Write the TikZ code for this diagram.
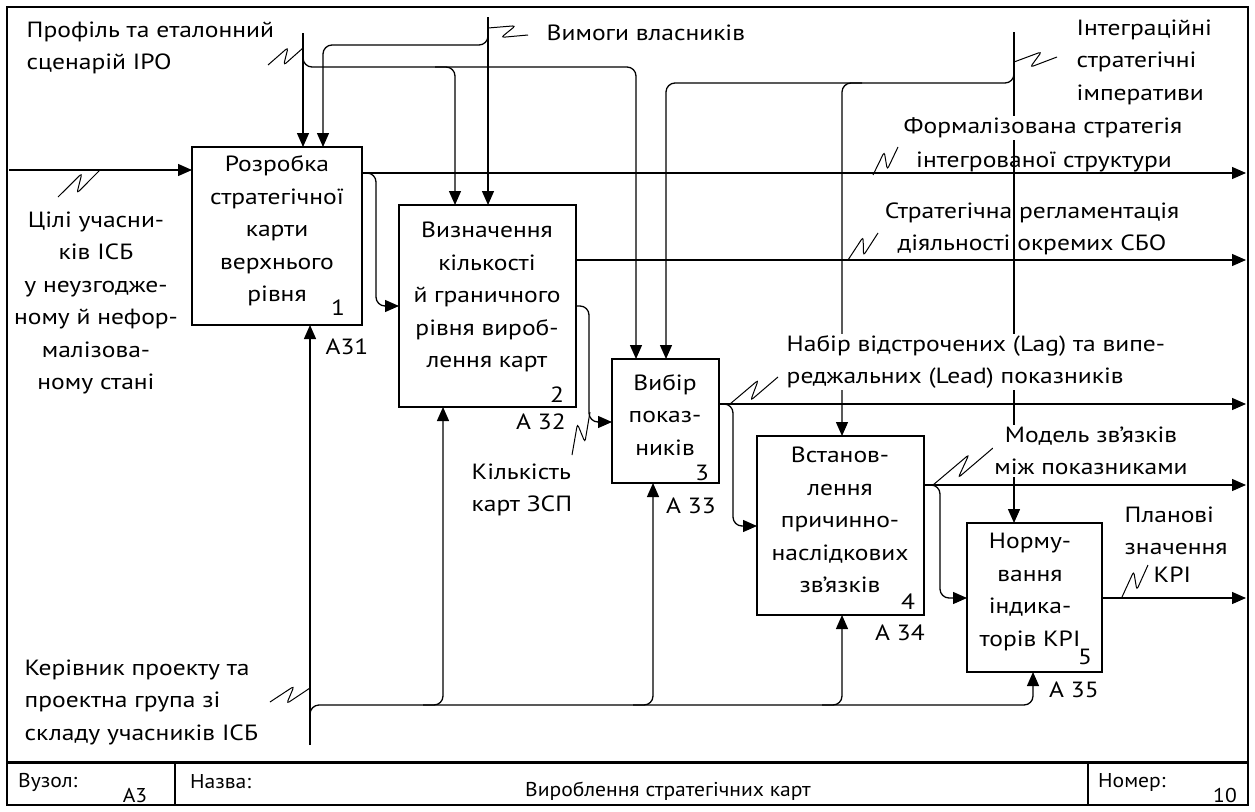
\documentclass[tikz,border=0pt]{standalone}
\usepackage{fontspec}
\setmainfont{PT Sans}[FakeStretch=1.16]
\newfontfamily\condfont[FakeStretch=1.08]{PT Sans}
\usetikzlibrary{arrows.meta,calc}
\newcommand{\sq}[4]{%
 \pgfmathsetmacro\sqdx{#3-(#1)}%
 \pgfmathsetmacro\sqdy{#4-(#2)}%
 \pgfmathsetmacro\sqL{veclen(\sqdx,\sqdy)}%
 \pgfmathsetmacro\sqnx{-1*(\sqdy)/\sqL*7}%
 \pgfmathsetmacro\sqny{(\sqdx)/\sqL*7}%
 \draw[sqs] (#1,#2) -- ({#1+0.66*(\sqdx)-(\sqnx)},{#2+0.66*(\sqdy)-(\sqny)}) -- ({#1+0.36*(\sqdx)+(\sqnx)},{#2+0.36*(\sqdy)+(\sqny)}) -- (#3,#4);}
\begin{document}
\begin{tikzpicture}[x=1pt,y=-1pt,
  box/.style={draw, line width=2.4pt, inner sep=0pt, outer sep=0pt, anchor=north west},
  arr/.style={line width=1.3pt, -{Triangle[length=14pt,width=12pt]}},
  rc/.style={rounded corners=9pt},
  sqs/.style={line width=1pt, rounded corners=3pt},
  lbl/.style={font=\fontsize{22}{32.5}\selectfont, inner sep=1.5pt, align=left},
  clbl/.style={font=\fontsize{22}{32.5}\selectfont, inner sep=1.5pt, align=center},
  tb/.style={font=\condfont\fontsize{20}{22}\selectfont, inner sep=0pt}]
\useasboundingbox (0,0) rectangle (1255,811);
% frame and title block
\draw[line width=2.4pt] (7,7) rectangle (1248,805);
\draw[line width=3pt] (7,762) -- (1248,762);
\draw[line width=1.5pt] (175,762) -- (175,805);
\draw[line width=1.5pt] (1088,762) -- (1088,805);
\node[tb, anchor=west] (tv) at (18,782) {Вузол:};
\node[tb] (tvn) at (135,795) {А3};
\node[tb, anchor=west] (tn) at (190,782) {Назва:};
\node[tb] (tt) at (668,791) {Вироблення стратегічних карт};
\node[tb, anchor=west] (tm) at (1098,782) {Номер:};
\node[tb] (tmn) at (1225,795) {10};

% boxes
\node[box, minimum width=170pt, minimum height=178pt] (b1) at (192,147) {};
\node[box, minimum width=177pt, minimum height=202pt] (b2) at (399,205) {};
\node[box, minimum width=107pt, minimum height=124pt] (b3) at (612,359) {};
\node[box, minimum width=167pt, minimum height=179pt] (b4) at (757,436) {};
\node[box, minimum width=135pt, minimum height=149pt] (b5) at (967,523) {};

% ports
\coordinate (b1t1) at ($(b1.north west)+(111,0)$);
\coordinate (b1t2) at ($(b1.north west)+(131,0)$);
\coordinate (b1b)  at ($(b1.south west)+(118,0)$);
\coordinate (b1l)  at ($(b1.north west)+(0,23)$);
\coordinate (b1r)  at ($(b1.north east)+(0,26)$);
\coordinate (b2t1) at ($(b2.north west)+(56,0)$);
\coordinate (b2t2) at ($(b2.north west)+(89,0)$);
\coordinate (b2b)  at ($(b2.south west)+(44,0)$);
\coordinate (b2l)  at ($(b2.north west)+(0,101)$);
\coordinate (b2r1) at ($(b2.north east)+(0,55)$);
\coordinate (b2r2) at ($(b2.north east)+(0,101)$);
\coordinate (b3t1) at ($(b3.north west)+(24,0)$);
\coordinate (b3t2) at ($(b3.north west)+(54,0)$);
\coordinate (b3b)  at ($(b3.south west)+(41,0)$);
\coordinate (b3l)  at ($(b3.north west)+(0,63)$);
\coordinate (b3r)  at ($(b3.north east)+(0,45)$);
\coordinate (b4t)  at ($(b4.north west)+(85,0)$);
\coordinate (b4b)  at ($(b4.south west)+(85,0)$);
\coordinate (b4l)  at ($(b4.north west)+(0,90)$);
\coordinate (b4r)  at ($(b4.north east)+(0,49)$);
\coordinate (b5t)  at ($(b5.north west)+(47,0)$);
\coordinate (b5b)  at ($(b5.south west)+(66,0)$);
\coordinate (b5l)  at ($(b5.north west)+(0,75)$);
\coordinate (b5r)  at ($(b5.north east)+(0,75)$);

% free ends and bus levels
\coordinate (inL) at (9,170);
\coordinate (cP) at (303,33);
\coordinate (cV) at (488,17);
\coordinate (cI) at (1014,32);
\coordinate (mK) at (310,745);
\coordinate (xR) at (1246,0);
\coordinate (yP) at (0,67);
\coordinate (yV) at (0,45);
\coordinate (yI) at (0,83);
\coordinate (yM) at (0,705);

% input
\draw[arr] (inL) -- (b1l);
% controls
\draw[arr] (cP) -- (b1t1);
\draw[arr,rc] ($(cP)+(0,12)$) |- (b3t1 |- yP) -- (b3t1);
\draw[arr,rc] ($(b2t1 |- yP)+(-20,0)$) -| (b2t1);
\draw[arr] (cV) -- (b2t2);
\draw[arr,rc] ($(cV)+(0,10)$) |- (b1t2 |- yV) -- (b1t2);
\draw[arr] (cI) -- (b5t);
\draw[arr,rc] ($(cI)+(0,26)$) |- (b3t2 |- yI) -- (b3t2);
\draw[arr,rc] ($(b4t |- yI)+(20,0)$) -| (b4t);
% outputs
\draw[arr] (b1r) -- (b1r -| xR);
\draw[arr,rc] ($(b1r)+(3,0)$) -| ($(b2l)+(-23,0)$) -- (b2l);
\draw[arr] (b2r1) -- (b2r1 -| xR);
\draw[arr,rc] (b2r2) -| ($(b3l)+(-23,0)$) -- (b3l);
\draw[arr] (b3r) -- (b3r -| xR);
\draw[arr,rc] ($(b3r)+(3,0)$) -| ($(b4l)+(-24,0)$) -- (b4l);
\draw[arr] (b4r) -- (b4r -| xR);
\draw[arr,rc] ($(b4r)+(3,0)$) -| ($(b5l)+(-27,0)$) -- (b5l);
\draw[arr] (b5r) -- (b5r -| xR);
% mechanisms
\draw[arr] (mK) -- (b1b);
\draw[arr,rc] ($(mK)+(0,-15)$) |- (b5b |- yM) -- (b5b);
\draw[arr,rc] ($(b2b |- yM)+(-20,0)$) -| (b2b);
\draw[arr,rc] ($(b3b |- yM)+(-20,0)$) -| (b3b);
\draw[arr,rc] ($(b4b |- yM)+(-20,0)$) -| (b4b);

% squiggles
\sq{58}{197}{100}{170}
\sq{268}{65}{303}{48}
\sq{488}{28}{528}{35}
\sq{1014}{62}{1057}{57}
\sq{873}{175}{898}{147}
\sq{848}{260}{878}{233}
\sq{730}{404}{778}{377}
\sq{572}{455}{590}{412}
\sq{933}{485}{993}{448}
\sq{1122}{597}{1148}{565}
\sq{270}{702}{310}{688}

% box texts
\node[clbl] (t1) at (277,231) {Розробка\\стратегічної\\карти\\верхнього\\рівня};
\node[clbl] (t2) at (487,297) {Визначення\\кількості\\й граничного\\рівня вироб-\\лення карт};
\node[clbl] (t3) at (665,415) {Вибір\\показ-\\ників};
\node[clbl] (t4) at (840,520) {Встанов-\\лення\\причинно-\\наслідкових\\зв’язків};
\node[clbl] (t5) at (1030,592) {Норму-\\вання\\індика-\\торів KPI};
\node[clbl] (n1) at (338,308) {1};
\node[clbl] (n2) at (557,395) {2};
\node[clbl] (n3) at (702,473) {3};
\node[clbl] (n4) at (908,602) {4};
\node[clbl] (n5) at (1085,657) {5};
\node[clbl] (a1) at (347,347) {A31};
\node[clbl] (a2) at (541,422) {A 32};
\node[clbl] (a3) at (691,506) {A 33};
\node[clbl] (a4) at (900,633) {A 34};
\node[clbl] (a5) at (1074,690) {A 35};

% labels
\node[lbl, anchor=west] (lP) at (25,48) {Профіль та еталонний\\сценарій IPO};
\node[lbl, anchor=west] (lV) at (545,33) {Вимоги власників};
\node[lbl, anchor=west] (lI) at (1075,62) {Інтеграційні\\стратегічні\\імперативи};
\node[clbl, fill=white] (lF1) at (1043,128) {Формалізована стратегія};
\node[clbl] (lF2) at (1044,162) {інтегрованої структури};
\node[clbl] (lS) at (1032,229) {Стратегічна регламентація\\діяльності окремих СБО};
\node[lbl, anchor=west, fill=white] (lN) at (785,362) {Набір відстрочених (Lag) та випе-\\реджальних (Lead) показників};
\node[lbl, anchor=west] (lK) at (470,490) {Кількість\\карт ЗСП};
\node[clbl, fill=white] (lM) at (1091,451) {Модель зв’язків\\між показниками};
\node[lbl, anchor=west] (lPl) at (1123,531) {Планові\\значення};
\node[lbl, anchor=west] (lKPI) at (1152,575) {KPI};
\node[clbl] (lC) at (96,303) {Цілі учасни-\\ків ІСБ\\у неузгодже-\\ному й нефор-\\малізова-\\ному стані};
\node[lbl, anchor=west] (lR) at (23,702) {Керівник проекту та\\проектна група зі\\складу учасників ІСБ};
\end{tikzpicture}
\end{document}
